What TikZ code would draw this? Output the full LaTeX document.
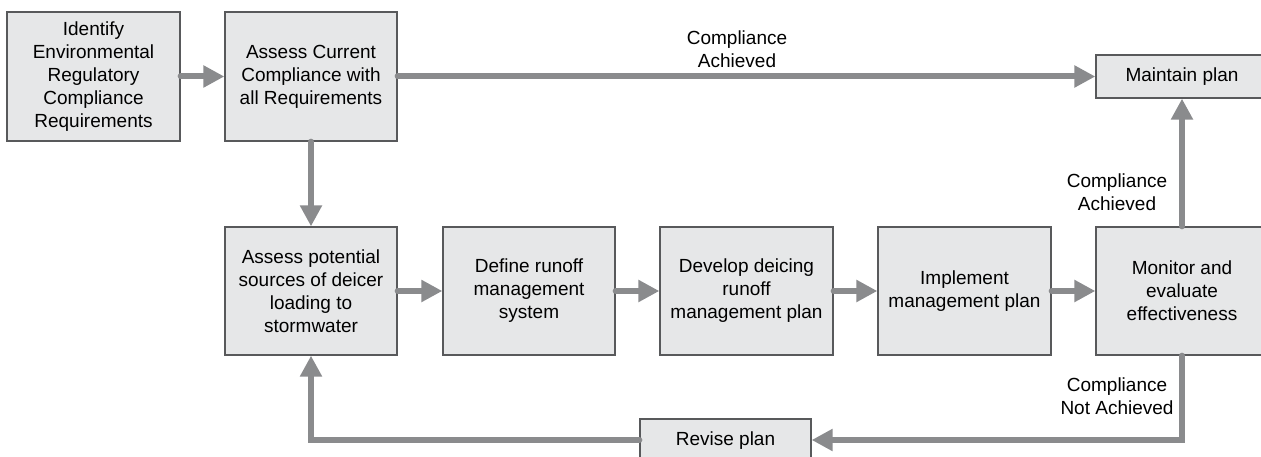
\documentclass[tikz,border=0pt]{standalone}
\usepackage{fontspec}
\setmainfont{Liberation Sans}
\usetikzlibrary{arrows.meta}
\definecolor{boxfill}{HTML}{E6E7E8}
\definecolor{boxline}{HTML}{58595B}
\definecolor{arr}{HTML}{8A8B8D}
\begin{document}
\begin{tikzpicture}[x=1pt,y=-1pt,
  every node/.style={font=\fontsize{19}{23}\selectfont},
  stepbox/.style={draw=boxline, line width=1.3pt, fill=boxfill, align=center,
     minimum width=172pt, minimum height=128pt, inner sep=0pt, anchor=center},
  smallbox/.style={stepbox, minimum height=43pt},
  flow/.style={draw=arr, line width=6pt, line cap=round,
     -{Triangle[length=21pt,width=21pt]}, shorten >=0pt},
  lbl/.style={align=center, inner sep=0pt}
]
\useasboundingbox (0,0) rectangle (1261,457);
\node[stepbox, minimum width=173pt, minimum height=129pt] (id) at (93.5,76.5)
  {Identify\\Environmental\\Regulatory\\Compliance\\Requirements};
\node[stepbox, minimum height=129pt] (acc) at (311,76.5)
  {Assess Current\\Compliance with\\all Requirements};
\node[smallbox] (maint) at (1182,76.5) {Maintain plan};
\node[stepbox] (src) at (311,291)
  {Assess potential\\sources of deicer\\loading to\\stormwater};
\node[stepbox] (def) at (529,291) {Define runoff\\management\\system};
\node[stepbox, minimum width=173pt] (dev) at (746.5,291) {Develop deicing\\runoff\\management plan};
\node[stepbox, minimum width=173pt] (imp) at (964.5,291) {Implement\\management plan};
\node[stepbox] (mon) at (1182,291) {Monitor and\\evaluate\\effectiveness};
\node[smallbox, minimum width=171pt] (rev) at (725.5,440.5) {Revise plan};

\coordinate (c1) at (1182,440);
\coordinate (c2) at (311,440);

\draw[flow] (id.east) -- (acc.west);
\draw[flow] (acc.east) -- (maint.west);
\draw[flow] (acc.south) -- (src.north);
\draw[flow] (src.east) -- (def.west);
\draw[flow] (def.east) -- (dev.west);
\draw[flow] (dev.east) -- (imp.west);
\draw[flow] (imp.east) -- (mon.west);
\draw[flow] (mon.north) -- (maint.south);
\draw[flow] (mon.south) -- (c1) -- (rev.east |- c1);
\draw[flow] (rev.west |- c2) -- (c2) -- (src.south);

\node[lbl] (l1) at (737,49.5) {Compliance\\Achieved};
\node[lbl] (l2) at (1117,192) {Compliance\\Achieved};
\node[lbl] (l3) at (1117,396) {Compliance\\Not Achieved};
\end{tikzpicture}
\end{document}
